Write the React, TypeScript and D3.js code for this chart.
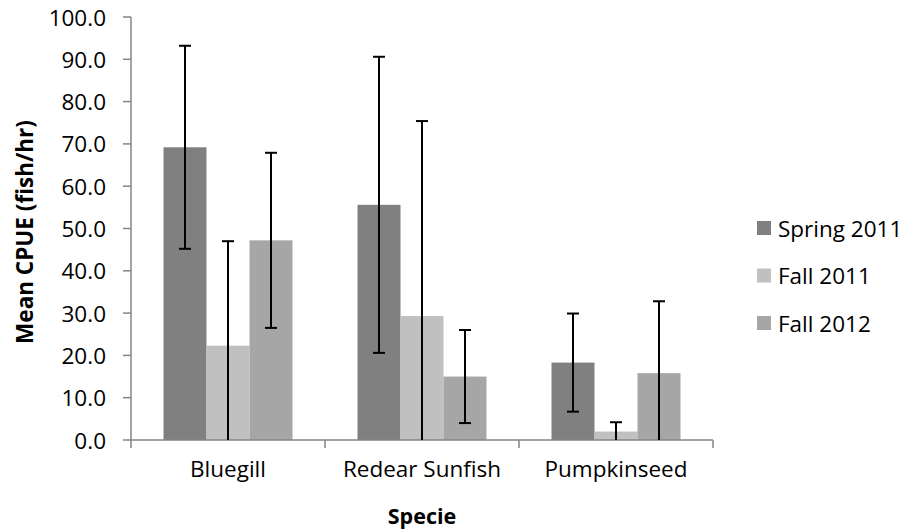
import React from "react";
import * as d3 from "d3";

const categories = ["Bluegill", "Redear Sunfish", "Pumpkinseed"];
const seriesNames = ["Spring 2011", "Fall 2011", "Fall 2012"];
const seriesColors = ["#808080", "#C0C0C0", "#A6A6A6"];
const spring2011 = [69.2, 55.6, 18.3];
const fall2011 = [22.3, 29.3, 2.0];
const fall2012 = [47.2, 15.0, 15.8];
const spring2011Err = [24.0, 35.0, 11.6];
const fall2011Err = [24.7, 46.1, 2.2];
const fall2012Err = [20.7, 11.0, 17.0];
const yTicks = [0, 10, 20, 30, 40, 50, 60, 70, 80, 90, 100];

const W = 908;
const H = 531;
const left = 131;
const right = 713;
const top = 17;
const bottom = 440;
const FONT = "'Open Sans', sans-serif";
const FS = 22.5;

export default function App() {
  const values = [spring2011, fall2011, fall2012];
  const errs = [spring2011Err, fall2011Err, fall2012Err];
  const x0 = d3.scaleBand<string>().domain(categories).range([left, right]).padding(0);
  const bw = x0.bandwidth();
  const x1 = d3
    .scaleBand<string>()
    .domain(seriesNames)
    .range([bw * 0.1675, bw * 0.8325])
    .padding(0);
  const y = d3.scaleLinear().domain([0, 100]).range([bottom, top]);
  const axisColor = "#868686";
  const capHalf = 6;

  return (
    <svg width={W} height={H} style={{ position: "absolute", left: 0, top: 0, background: "#fff" }}>
      {/* bars */}
      {seriesNames.map((s, si) =>
        categories.map((c, ci) => {
          const bx = (x0(c) as number) + (x1(s) as number);
          const v = values[si][ci];
          return (
            <rect
              key={s + c}
              x={bx}
              y={y(v)}
              width={x1.bandwidth()}
              height={y(0) - y(v)}
              fill={seriesColors[si]}
            />
          );
        })
      )}
      {/* axes */}
      <line x1={left} x2={left} y1={top} y2={bottom} stroke={axisColor} strokeWidth={1.5} />
      <line x1={left} x2={right} y1={bottom} y2={bottom} stroke={axisColor} strokeWidth={1.5} />
      {yTicks.map((t) => (
        <g key={t}>
          <line x1={left - 8} x2={left} y1={y(t)} y2={y(t)} stroke={axisColor} strokeWidth={1.5} />
          <text
            x={106}
            y={y(t)}
            textAnchor="end"
            dominantBaseline="central"
            fontFamily={FONT}
            fontSize={FS}
            fill="#000"
          >
            {t.toFixed(1)}
          </text>
        </g>
      ))}
      {[...categories.map((c) => x0(c) as number), right].map((xv, i) => (
        <line key={i} x1={xv} x2={xv} y1={bottom} y2={bottom + 8} stroke={axisColor} strokeWidth={1.5} />
      ))}
      {categories.map((c) => (
        <text
          key={c}
          x={(x0(c) as number) + bw / 2}
          y={477}
          textAnchor="middle"
          fontFamily={FONT}
          fontSize={FS}
          fill="#000"
        >
          {c}
        </text>
      ))}
      {/* error bars */}
      {seriesNames.map((s, si) =>
        categories.map((c, ci) => {
          const cx = (x0(c) as number) + (x1(s) as number) + x1.bandwidth() / 2;
          const v = values[si][ci];
          const e = errs[si][ci];
          const hi = v + e;
          const lo = Math.max(0, v - e);
          return (
            <g key={"e" + s + c} stroke="#000" strokeWidth={2}>
              <line x1={cx} x2={cx} y1={y(hi)} y2={y(lo)} />
              <line x1={cx - capHalf} x2={cx + capHalf} y1={y(hi)} y2={y(hi)} />
              {v - e > 0 && <line x1={cx - capHalf} x2={cx + capHalf} y1={y(lo)} y2={y(lo)} />}
            </g>
          );
        })
      )}
      {/* axis titles */}
      <text
        transform={`translate(24, 232) rotate(-90)`}
        textAnchor="middle"
        dominantBaseline="central"
        fontFamily={FONT}
        fontSize={22.5}
        fontWeight="bold"
        fill="#000"
      >
        Mean CPUE (fish/hr)
      </text>
      <text
        x={(left + right) / 2}
        y={524}
        textAnchor="middle"
        fontFamily={FONT}
        fontSize={21.5}
        fontWeight="bold"
        fill="#000"
      >
        Specie
      </text>
      {/* legend */}
      {seriesNames.map((s, i) => {
        const cy = 228 + i * 47.5;
        return (
          <g key={"l" + s}>
            <rect x={757} y={cy - 7} width={14} height={14} fill={seriesColors[i]} />
            <text x={778} y={cy} dominantBaseline="central" fontFamily={FONT} fontSize={FS} fill="#000">
              {s}
            </text>
          </g>
        );
      })}
    </svg>
  );
}
